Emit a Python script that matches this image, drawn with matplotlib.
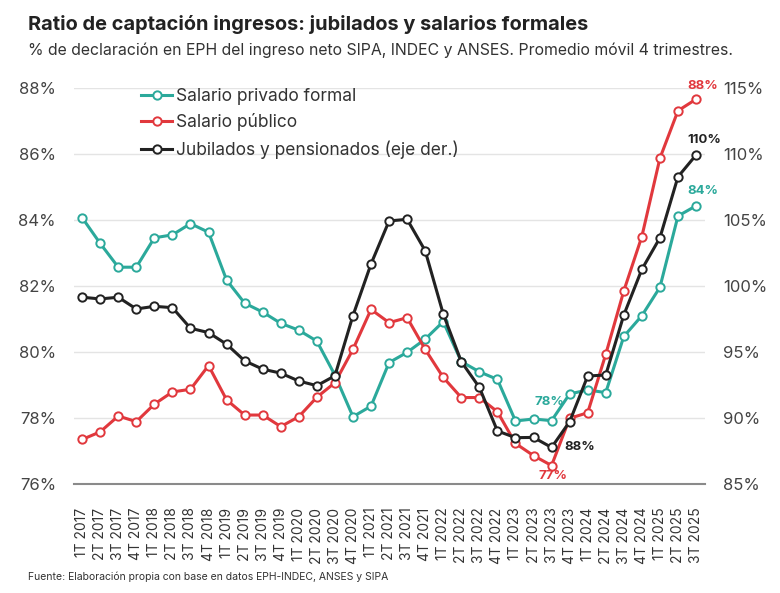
import matplotlib.pyplot as plt
import numpy as np

plt.rcParams['font.family'] = ['Inter', 'DejaVu Sans']

trimestres = []
for anio in range(2017, 2026):
    for q in range(1, 5):
        if anio == 2025 and q > 3:
            break
        trimestres.append(str(q) + 'T ' + str(anio))

# % declaracion, eje izquierdo
privado = [84.07, 83.29, 82.57, 82.57, 83.46, 83.55, 83.89, 83.63, 82.18, 81.48,
           81.21, 80.87, 80.66, 80.33, 79.30, 78.04, 78.36, 79.68, 79.99, 80.39,
           80.92, 79.71, 79.40, 79.17, 77.91, 77.97, 77.92, 78.73, 78.85, 78.77,
           80.47, 81.10, 81.96, 84.12, 84.43]
publico = [77.35, 77.58, 78.06, 77.89, 78.42, 78.79, 78.87, 79.59, 78.55, 78.09,
           78.09, 77.74, 78.04, 78.63, 79.07, 80.08, 81.29, 80.89, 81.04, 80.08,
           79.23, 78.62, 78.62, 78.19, 77.23, 76.86, 76.56, 77.99, 78.16, 79.93,
           81.85, 83.50, 85.87, 87.31, 87.66]
# eje derecho
jubilados = [99.15, 99.02, 99.15, 98.26, 98.46, 98.36, 96.80, 96.47, 95.59, 94.33,
             93.70, 93.40, 92.80, 92.45, 93.20, 97.76, 101.67, 104.93, 105.05, 102.67,
             97.88, 94.27, 92.32, 89.02, 88.51, 88.53, 87.77, 89.72, 93.18, 93.26,
             97.80, 101.26, 103.65, 108.27, 109.92]

verde = '#2ba99b'
rojo = '#e1383d'
negro = '#222222'
x = np.arange(len(trimestres))

fig = plt.figure(figsize=(7.8, 5.93), dpi=100)
ax = fig.add_axes([0.0949, 0.1838, 0.809, 0.6678])
ax2 = ax.twinx()

estilo = dict(lw=2.2, marker='o', ms=6, mfc='white', mew=1.4)
l1, = ax.plot(x, privado, color=verde, label='Salario privado formal', zorder=3, **estilo)
l2, = ax.plot(x, publico, color=rojo, label='Salario público', zorder=3, **estilo)
l3, = ax2.plot(x, jubilados, color=negro, label='Jubilados y pensionados (eje der.)', zorder=3, **estilo)

ax.set_xlim(-0.45, 34.5)
ax.set_ylim(76, 88)
ax2.set_ylim(85, 115)
ax.set_yticks(np.arange(76, 89, 2))
ax2.set_yticks(np.arange(85, 116, 5))
ax.set_yticklabels([str(v) + '%' for v in range(76, 89, 2)])
ax2.set_yticklabels([str(v) + '%' for v in range(85, 116, 5)])
ax.set_xticks(x)
ax.set_xticklabels(trimestres, rotation=90, fontsize=10, color='#333333')

ax.grid(axis='y', color='#e4e4e4', lw=1)
ax.set_axisbelow(True)
for a in (ax, ax2):
    for s in ['top', 'right', 'left', 'bottom']:
        a.spines[s].set_visible(False)
    a.tick_params(length=0)
ax.spines['bottom'].set_visible(True)
ax.spines['bottom'].set_color('#8a8a8a')
ax.spines['bottom'].set_linewidth(1.5)
ax.tick_params(axis='y', labelsize=12, labelcolor='#444444', pad=13)
ax2.tick_params(axis='y', labelsize=12, labelcolor='#444444', pad=13)
ax.tick_params(axis='x', pad=17)

# etiquetas de valores
def etiqueta(a, i, serie, texto, color, dx, dy, ha='center'):
    a.annotate(texto, (x[i], serie[i]), xytext=(dx, dy), textcoords='offset pixels',
               ha=ha, va='center', fontsize=9.5, fontweight='bold', color=color)

etiqueta(ax, 34, publico, '88%', rojo, 7, 13)
etiqueta(ax2, 34, jubilados, '110%', negro, 8, 15)
etiqueta(ax, 34, privado, '84%', verde, 7, 15)
etiqueta(ax, 26, privado, '78%', verde, -2, 19)
etiqueta(ax2, 26, jubilados, '88%', negro, 13, 0, ha='left')
etiqueta(ax, 26, publico, '77%', rojo, 1, -10)

leg = ax2.legend(handles=[l1, l2, l3], loc='upper left', bbox_to_anchor=(0.095, 1.018),
                 frameon=False, fontsize=12.5, handlelength=1.8, handletextpad=0.2,
                 labelspacing=0.5, borderaxespad=0)
for t in leg.get_texts():
    t.set_color('#333333')

fig.text(0.036, 0.958, 'Ratio de captación ingresos: jubilados y salarios formales',
         fontsize=14.4, fontweight='bold', color='#222222', va='center')
fig.text(0.036, 0.916, '% de declaración en EPH del ingreso neto SIPA, INDEC y ANSES. Promedio móvil 4 trimestres.',
         fontsize=11.4, color='#333333', va='center')
fig.text(0.036, 0.027, 'Fuente: Elaboración propia con base en datos EPH-INDEC, ANSES y SIPA',
         fontsize=7.5, color='#333333', va='center')

plt.savefig('out.png', dpi=100)
